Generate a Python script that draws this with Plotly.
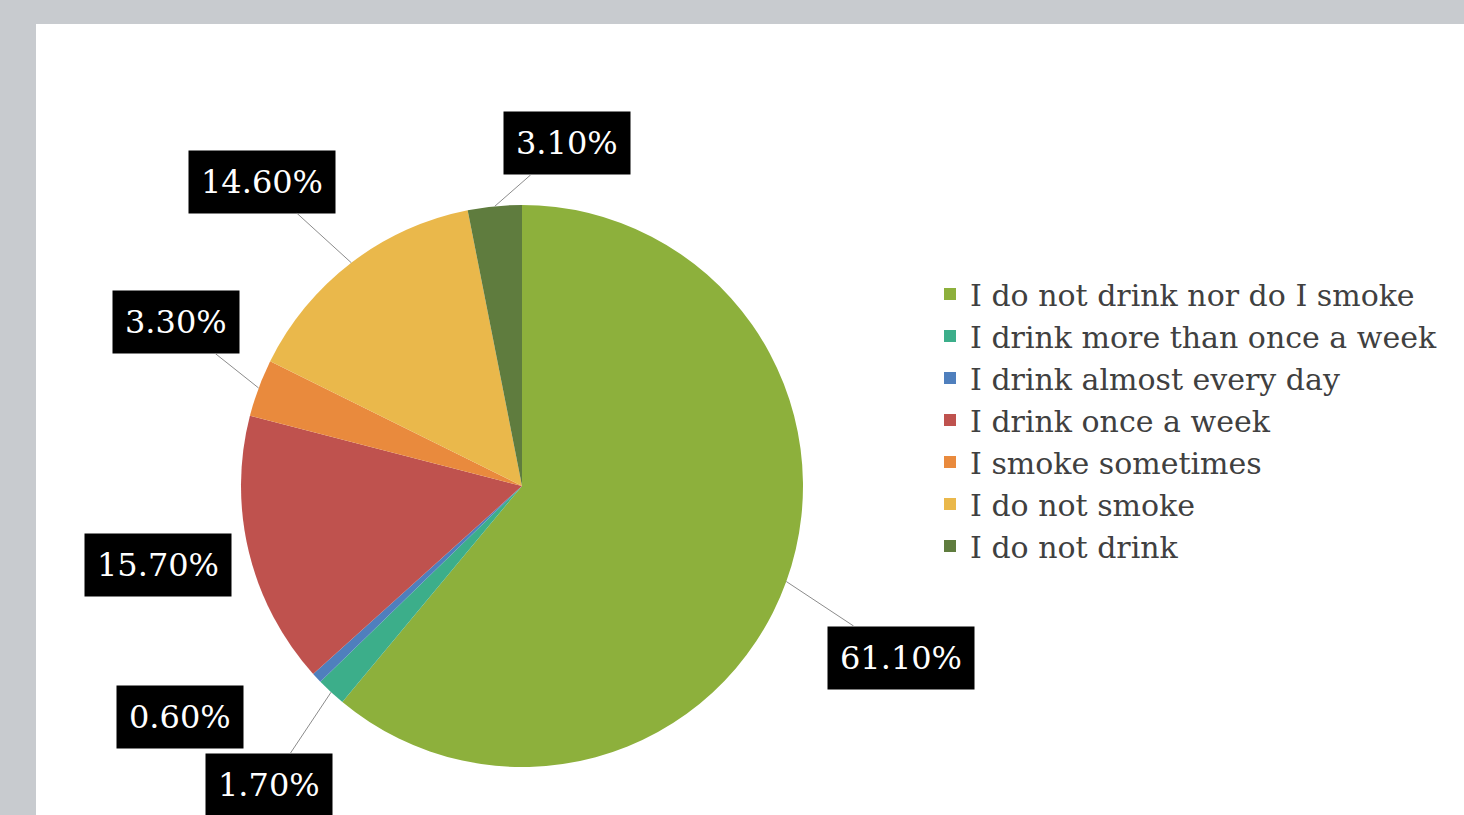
import math
import plotly.graph_objects as go

# ---- data ----
categories = [
    "I do not drink nor do I smoke",
    "I drink more than once a week",
    "I drink almost every day",
    "I drink once a week",
    "I smoke sometimes",
    "I do not smoke",
    "I do not drink",
]
values = [61.1, 1.7, 0.6, 15.7, 3.3, 14.6, 3.1]
value_labels = ["61.10%", "1.70%", "0.60%", "15.70%", "3.30%", "14.60%", "3.10%"]

# ---- style ----
colors = ["#8DB03C", "#3CAE8A", "#4F7FBD", "#BF524E", "#E98A3D", "#EAB84B", "#5F7C3E"]
W, H = 1464, 815
cx_px, cy_px, r_px = 522, 486, 281
# label offsets (pixels from slice edge point) and whether a leader line is drawn
label_offsets = [(115, 76), (-62, 93), (-137, 39), (-91, 12), (-83, -66), (-89, -81), (72, -63)]
leader = [True, True, False, False, True, True, True]

serif = "DejaVu Serif, Liberation Serif, serif"

fig = go.Figure()
fig.add_trace(go.Pie(
    labels=categories,
    values=values,
    sort=False,
    direction="clockwise",
    rotation=0,
    textinfo="none",
    hoverinfo="label+percent",
    marker=dict(colors=colors, line=dict(width=0)),
    domain=dict(x=[(cx_px - r_px) / W, (cx_px + r_px) / W],
                y=[1 - (cy_px + r_px) / H, 1 - (cy_px - r_px) / H]),
    showlegend=True,
))

# label annotations positioned from slice mid-angles
total = sum(values)
cum = 0.0
annotations = []
for i, v in enumerate(values):
    mid = (cum + v / 2) / total * 2 * math.pi
    cum += v
    px = cx_px + r_px * math.sin(mid)
    py = cy_px - r_px * math.cos(mid)
    ox, oy = label_offsets[i]
    common = dict(
        text=value_labels[i], xref="paper", yref="paper",
        font=dict(family=serif, size=32, color="white"),
        bgcolor="black", borderpad=12,
    )
    if leader[i]:
        annotations.append(dict(
            x=px / W, y=1 - py / H, ax=ox, ay=oy, showarrow=True,
            arrowhead=0, arrowwidth=1, arrowcolor="#8c8c8c", standoff=0, **common))
    else:
        annotations.append(dict(
            x=(px + ox) / W, y=1 - (py + oy) / H, xanchor="center", yanchor="middle",
            showarrow=False, **common))

fig.update_layout(
    width=W, height=H,
    margin=dict(l=0, r=0, t=0, b=0),
    paper_bgcolor="#C8CBCF",
    plot_bgcolor="white",
    shapes=[dict(type="rect", xref="paper", yref="paper", x0=36 / W, x1=1.0, y0=0, y1=1 - 24 / H,
                 fillcolor="white", line=dict(width=0), layer="below")],
    annotations=annotations,
    legend=dict(
        x=930 / W, y=1 - 268 / H, xanchor="left", yanchor="top",
        font=dict(family=serif, size=30, color="#404040"),
        bgcolor="rgba(0,0,0,0)", itemwidth=30, tracegroupgap=0,
    ),
)

fig.write_html(
    "out.html",
    config={"displayModeBar": False},
    post_script="document.body.style.margin='0';document.body.style.overflow='hidden';",
)
